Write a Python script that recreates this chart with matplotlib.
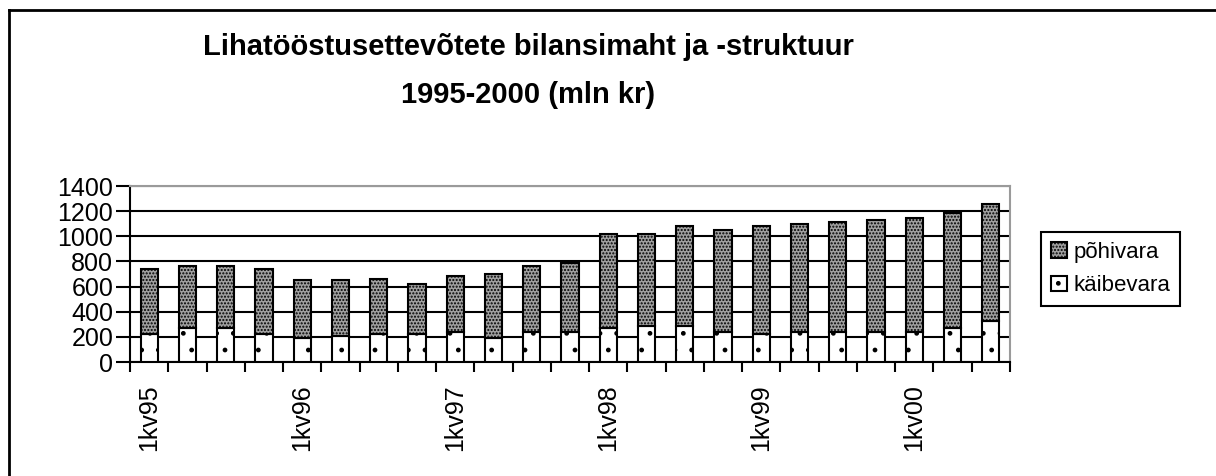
import matplotlib
matplotlib.use('Agg')
import matplotlib.pyplot as plt
import numpy as np
from matplotlib.lines import Line2D

plt.rcParams['font.family'] = ['Liberation Sans', 'DejaVu Sans']
plt.rcParams['hatch.linewidth'] = 1.0

# kvartalid 1kv95 ... 3kv00
quarters = ['1kv95', '2kv95', '3kv95', '4kv95',
            '1kv96', '2kv96', '3kv96', '4kv96',
            '1kv97', '2kv97', '3kv97', '4kv97',
            '1kv98', '2kv98', '3kv98', '4kv98',
            '1kv99', '2kv99', '3kv99', '4kv99',
            '1kv00', '2kv00', '3kv00']
# käibevara (alumine osa)
kaibevara = [222, 267, 267, 222, 190, 209, 222, 222, 235, 190, 235, 235,
             267, 283, 283, 235, 222, 235, 235, 235, 235, 267, 330]
# bilansimaht kokku
kokku = [737, 763, 763, 737, 653, 653, 658, 621, 684, 703, 763, 787,
         1017, 1017, 1081, 1049, 1081, 1099, 1112, 1128, 1144, 1184, 1255]
pohivara = [t - k for t, k in zip(kokku, kaibevara)]

title = 'Lihatööstusettevõtete bilansimaht ja -struktuur\n1995-2000 (mln kr)'
yticks = np.arange(0, 1401, 200)

fig = plt.figure(figsize=(12.16, 4.76), dpi=100)
W, H = 1216, 476
ax = fig.add_axes([130 / W, 1 - 362 / H, 880 / W, 176 / H])

x = np.arange(len(quarters))
width = 0.45
ax.bar(x, kaibevara, width, color='white', edgecolor='black', hatch='.',
       linewidth=1.5, label='käibevara', zorder=3)
ax.bar(x, pohivara, width, bottom=kaibevara, color='#a0a0a0', edgecolor='black',
       hatch='.....', linewidth=1.5, label='põhivara', zorder=3)

ax.set_xlim(-0.5, len(quarters) - 0.5)
ax.set_ylim(0, 1400)
ax.set_yticks(yticks)
ax.set_yticklabels([str(v) for v in yticks], fontsize=18)
ax.yaxis.grid(True, color='black', linewidth=1.5, zorder=0)
ax.set_axisbelow(True)

ax.set_xticks(x[::4])
ax.set_xticklabels(quarters[::4], rotation=90, fontsize=18)
ax.set_xticks(np.arange(-0.5, len(quarters)), minor=True)
ax.tick_params(axis='x', which='major', length=0, pad=16)
ax.tick_params(axis='x', which='minor', length=7, width=1.5, direction='out')
ax.tick_params(axis='y', length=10, width=1.5, direction='out', pad=2)

for side in ['left', 'bottom']:
    ax.spines[side].set_linewidth(1.5)
    ax.spines[side].set_color('black')
for side in ['top', 'right']:
    ax.spines[side].set_linewidth(1.5)
    ax.spines[side].set_color('#9a9a9a')

fig.text(528 / W, 1 - 71 / H, title, ha='center', va='center', fontsize=21,
         fontweight='bold', linespacing=1.9)

handles, labels = ax.get_legend_handles_labels()
leg = fig.legend(handles[::-1], labels[::-1], loc='upper left',
                 bbox_to_anchor=(1041 / W, 1 - 232 / H), bbox_transform=fig.transFigure,
                 borderaxespad=0, fancybox=False, framealpha=1, edgecolor='black',
                 fontsize=16, handlelength=0.7, handleheight=0.7, handletextpad=0.3,
                 labelspacing=0.55, borderpad=0.45)
leg.get_frame().set_linewidth(1.5)

# raam ümber diagrammi
fig.add_artist(Line2D([9 / W, 1], [1 - 10 / H, 1 - 10 / H], color='black', linewidth=2))
fig.add_artist(Line2D([9 / W, 9 / W], [0, 1 - 10 / H], color='black', linewidth=2))

fig.savefig('out.png', dpi=100)
